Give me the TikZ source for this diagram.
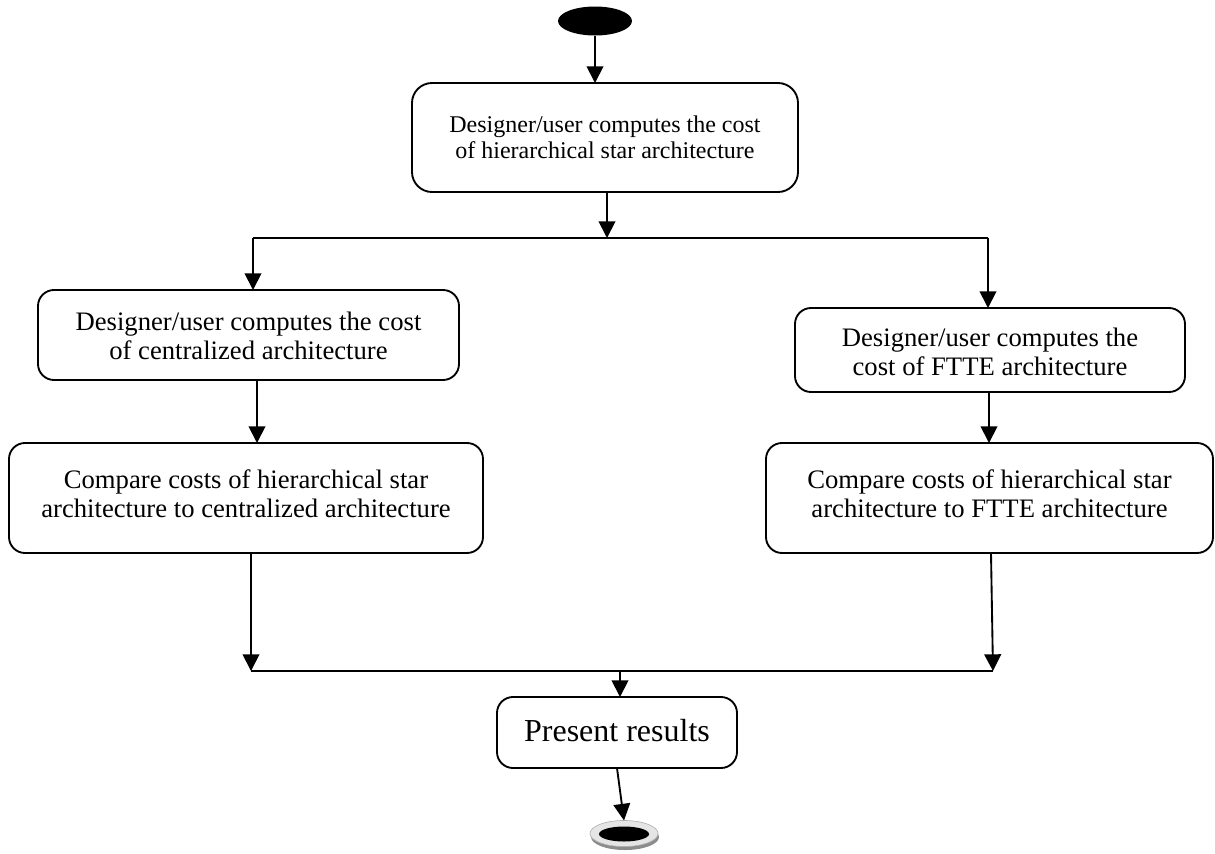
\documentclass[tikz,border=0pt]{standalone}
\usepackage{fontspec}
\setmainfont{Liberation Serif}
\usetikzlibrary{arrows.meta,shapes.geometric}

\begin{document}
\begin{tikzpicture}[x=0.75pt,y=-0.75pt,
  every node/.style={inner sep=0pt,outer sep=0pt},
  stepbox/.style={draw,line width=1.4pt,rounded corners=12pt,fill=white},
  txt/.style={align=center,font=\fontsize{20}{21.5}\selectfont},
  link/.style={line width=1.4pt},
  arr/.style={line width=1.4pt,-{Triangle[length=12.5pt,width=12.5pt]}}]

% page frame
\useasboundingbox (0,0) rectangle (1215,854);

% start state
\node[ellipse,fill=black,minimum width=55.5pt,minimum height=21.75pt] (start) at (595,21) {};

% activity boxes
\node[stepbox,rounded corners=15pt,minimum width=289.5pt,minimum height=81.75pt] (hier) at (605,137.5) {};
\node[txt,font=\fontsize{18}{19.5}\selectfont] (hiertxt) at (605,137)
  {Designer/user computes the cost\\of hierarchical star architecture};

\node[stepbox,minimum width=315.75pt,minimum height=67.5pt] (cent) at (248.5,335) {};
\node[txt] (centtxt) at (248.5,336)
  {Designer/user computes the cost\\of centralized architecture};

\node[stepbox,minimum width=292.5pt,minimum height=63pt] (ftte) at (990,350) {};
\node[txt] (fttetxt) at (990,352)
  {Designer/user computes the\\cost of FTTE architecture};

\node[stepbox,minimum width=355.5pt,minimum height=82.5pt] (cmpc) at (246,498) {};
\node[txt] (cmpctxt) at (246,494)
  {Compare costs of hierarchical star\\architecture to centralized architecture};

\node[stepbox,minimum width=335.25pt,minimum height=82.5pt] (cmpf) at (989.5,498) {};
\node[txt] (cmpftxt) at (989.5,494)
  {Compare costs of hierarchical star\\architecture to FTTE architecture};

\node[stepbox,minimum width=180pt,minimum height=53.25pt] (pres) at (617,732.5) {};
\node[txt,font=\fontsize{24}{26}\selectfont] (prestxt) at (617,731) {Present results};

% final state
\node[ellipse,fill=black!45,minimum width=51pt,minimum height=19.5pt] (endshadow) at (625,837) {};
\node[ellipse,fill=black!10,draw=black!30,line width=0.5pt,minimum width=51pt,minimum height=19.5pt] (endring) at (624,833.5) {};
\node[ellipse,fill=black,minimum width=37.5pt,minimum height=11.25pt] (end) at (624,834) {};

% fork and join bars
\coordinate (forkL) at (253,238);
\coordinate (forkM) at (607,238);
\coordinate (forkR) at (988,238);
\coordinate (joinL) at (251,671);
\coordinate (joinM) at (620,671);
\coordinate (joinR) at (993,671);
\coordinate (xcent) at (257,0);
\coordinate (xftte) at (989,0);
\coordinate (xcmpc) at (251,0);
\coordinate (xcmpf) at (991,0);

% connectors
\draw[arr] (start.south) -- (start.south |- hier.north);
\draw[arr] (hier.south -| forkM) -- (forkM);
\draw[link] (forkL) -- (forkR);
\draw[arr] (forkL) -- (forkL |- cent.north);
\draw[arr] (forkR) -- (forkR |- ftte.north);
\draw[arr] (cent.south -| xcent) -- (cmpc.north -| xcent);
\draw[arr] (ftte.south -| xftte) -- (cmpf.north -| xftte);
\draw[arr] (cmpc.south -| xcmpc) -- (joinL);
\draw[arr] (cmpf.south -| xcmpf) -- (joinR);
\draw[link] (joinL) -- (joinR);
\draw[arr] (joinM) -- (joinM |- pres.north);
\draw[arr] (pres.south) -- (endring.north);

\end{tikzpicture}
\end{document}
